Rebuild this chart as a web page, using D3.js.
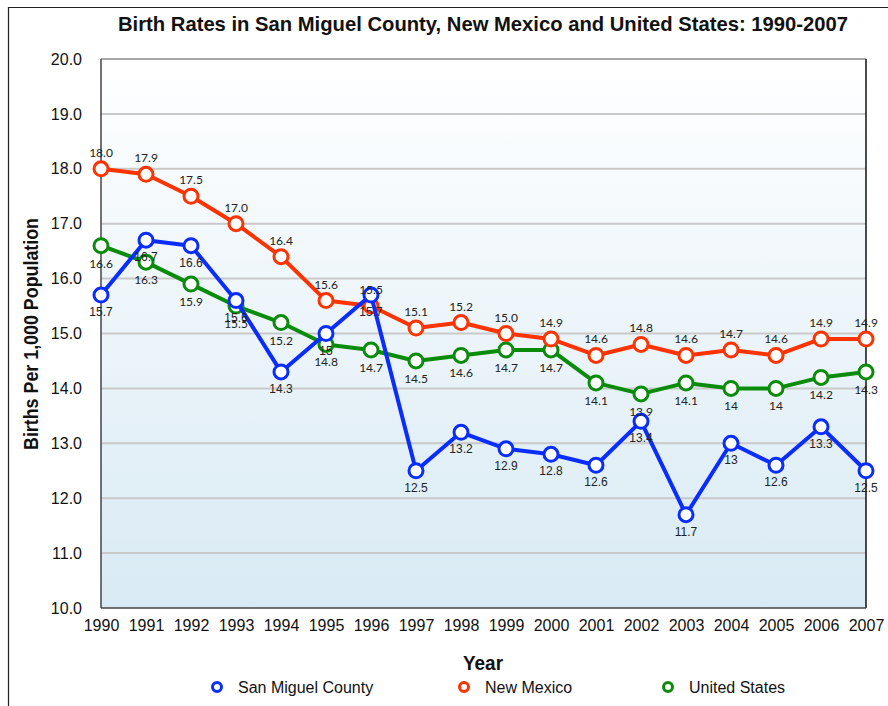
<!DOCTYPE html>
<html><head><meta charset="utf-8">
<script src="https://cdn.jsdelivr.net/npm/d3@7"></script>
<style>
body{margin:0;background:#fff;}
svg{display:block;}
</style></head>
<body>
<script>
const years = [1990,1991,1992,1993,1994,1995,1996,1997,1998,1999,2000,2001,2002,2003,2004,2005,2006,2007];
const sanMiguel = [15.7,16.7,16.6,15.6,14.3,15,15.7,12.5,13.2,12.9,12.8,12.6,13.4,11.7,13,12.6,13.3,12.5];
const newMexico = [18.0,17.9,17.5,17.0,16.4,15.6,15.5,15.1,15.2,15.0,14.9,14.6,14.8,14.6,14.7,14.6,14.9,14.9];
const unitedStates = [16.6,16.3,15.9,15.5,15.2,14.8,14.7,14.5,14.6,14.7,14.7,14.1,13.9,14.1,14,14,14.2,14.3];
const yTicks = [10,11,12,13,14,15,16,17,18,19,20];
const seriesNames = ["San Miguel County","New Mexico","United States"];
const seriesColors = ["#0a2dff","#ff3300","#0a8c0a"];

const W=888,H=706;
const pL=101,pR=866,pT=59,pB=608;
const svg=d3.select("body").append("svg").attr("width",W).attr("height",H);

// outer frame
svg.append("path").attr("d",`M8.5,${H} L8.5,7.5 L${W},7.5`).attr("fill","none").attr("stroke","#222").attr("stroke-width",1.2);

const defs=svg.append("defs");
const grad=defs.append("linearGradient").attr("id","bg").attr("x1",0).attr("y1",0).attr("x2",0).attr("y2",1);
grad.append("stop").attr("offset","0%").attr("stop-color","#ffffff");
grad.append("stop").attr("offset","100%").attr("stop-color","#d8eaf4");

const x=d3.scaleLinear().domain([1990,2007]).range([pL,pR]);
const y=d3.scaleLinear().domain([10,20]).range([pB,pT]);

svg.append("rect").attr("x",pL).attr("y",pT).attr("width",pR-pL).attr("height",pB-pT).attr("fill","url(#bg)");

// grid
svg.append("g").selectAll("line").data(yTicks.filter(v=>v>10&&v<20)).join("line")
 .attr("x1",pL).attr("x2",pR).attr("y1",d=>y(d)).attr("y2",d=>y(d))
 .attr("stroke","#c9c9c9").attr("stroke-width",2);

// frame of plot
svg.append("line").attr("x1",pL).attr("x2",pR).attr("y1",pT).attr("y2",pT).attr("stroke","#8a8a8a").attr("stroke-width",1.5);
svg.append("line").attr("x1",pL).attr("x2",pL).attr("y1",pT).attr("y2",pB).attr("stroke","#444").attr("stroke-width",1.5);
svg.append("line").attr("x1",pR).attr("x2",pR).attr("y1",pT).attr("y2",pB).attr("stroke","#111").attr("stroke-width",1.5);
svg.append("line").attr("x1",pL).attr("x2",pR).attr("y1",pB).attr("y2",pB).attr("stroke","#444").attr("stroke-width",1.5);

// axes
const yAxis=svg.append("g").attr("transform",`translate(${pL-19},0)`)
 .call(d3.axisLeft(y).tickValues(yTicks).tickFormat(d3.format(".1f")).tickSize(0).tickPadding(0));
yAxis.select(".domain").remove();
yAxis.selectAll("text").attr("font-family","'Liberation Sans',Arial,sans-serif").attr("font-size",16).attr("fill","#111");

const xAxis=svg.append("g").attr("transform",`translate(0,${pB+12})`)
 .call(d3.axisBottom(x).tickValues(years).tickFormat(d3.format("d")).tickSize(0).tickPadding(0));
xAxis.select(".domain").remove();
xAxis.selectAll("text").attr("font-family","'Liberation Sans',Arial,sans-serif").attr("font-size",16).attr("fill","#111");

// title
svg.append("text").attr("x",483).attr("y",31).attr("text-anchor","middle")
 .attr("font-family","'Liberation Sans',Arial,sans-serif").attr("font-weight","bold").attr("font-size",21)
 .attr("textLength",730).attr("lengthAdjust","spacingAndGlyphs").attr("fill","#111")
 .text("Birth Rates in San Miguel County, New Mexico and United States: 1990-2007");

// axis titles
svg.append("text").attr("transform","translate(38,334) rotate(-90)").attr("text-anchor","middle")
 .attr("font-family","'Liberation Sans',Arial,sans-serif").attr("font-weight","bold").attr("font-size",21)
 .attr("textLength",232).attr("lengthAdjust","spacingAndGlyphs").attr("fill","#111")
 .text("Births Per 1,000 Population");
svg.append("text").attr("x",483).attr("y",670).attr("text-anchor","middle")
 .attr("font-family","'Liberation Sans',Arial,sans-serif").attr("font-weight","bold").attr("font-size",20)
 .attr("textLength",40).attr("lengthAdjust","spacingAndGlyphs").attr("fill","#111")
 .text("Year");

const allSeries=[sanMiguel,newMexico,unitedStates];
const line=d3.line().x((d,i)=>x(years[i])).y(d=>y(d));
const order=[2,1,0];
order.forEach(k=>{
  svg.append("path").datum(allSeries[k]).attr("d",line).attr("fill","none")
   .attr("stroke",seriesColors[k]).attr("stroke-width",4).attr("stroke-linejoin","round");
  svg.append("g").selectAll("circle").data(allSeries[k]).join("circle")
   .attr("cx",(d,i)=>x(years[i])).attr("cy",d=>y(d)).attr("r",7)
   .attr("fill","#fff").attr("stroke",seriesColors[k]).attr("stroke-width",3);
});

// labels
const lab=svg.append("g").attr("font-size",12).attr("fill","#222").attr("text-anchor","middle");
lab.selectAll("text.nm").data(newMexico).join("text").attr("class","nm")
 .attr("font-family","Lato,'Open Sans',sans-serif")
 .attr("x",(d,i)=>x(years[i])).attr("y",d=>y(d)-12).text(d=>d3.format(".1f")(d));
lab.selectAll("text.us").data(unitedStates).join("text").attr("class","us")
 .attr("font-family","Lato,'Open Sans',sans-serif")
 .attr("x",(d,i)=>x(years[i])).attr("y",d=>y(d)+22).text(d=>String(d));
lab.selectAll("text.sm").data(sanMiguel).join("text").attr("class","sm")
 .attr("font-family","'Liberation Sans',Arial,sans-serif")
 .attr("x",(d,i)=>x(years[i])).attr("y",d=>y(d)+21).text(d=>String(d));

// legend
const legX=[217,464,668];
const lg=svg.append("g");
seriesNames.forEach((n,k)=>{
  lg.append("circle").attr("cx",legX[k]).attr("cy",687).attr("r",4.5).attr("fill","#fff")
   .attr("stroke",seriesColors[k]).attr("stroke-width",3);
  lg.append("text").attr("x",legX[k]+21).attr("y",693).attr("font-family","'Liberation Sans',Arial,sans-serif")
   .attr("font-size",16).attr("fill","#111").text(n);
});
</script>
</body></html>
